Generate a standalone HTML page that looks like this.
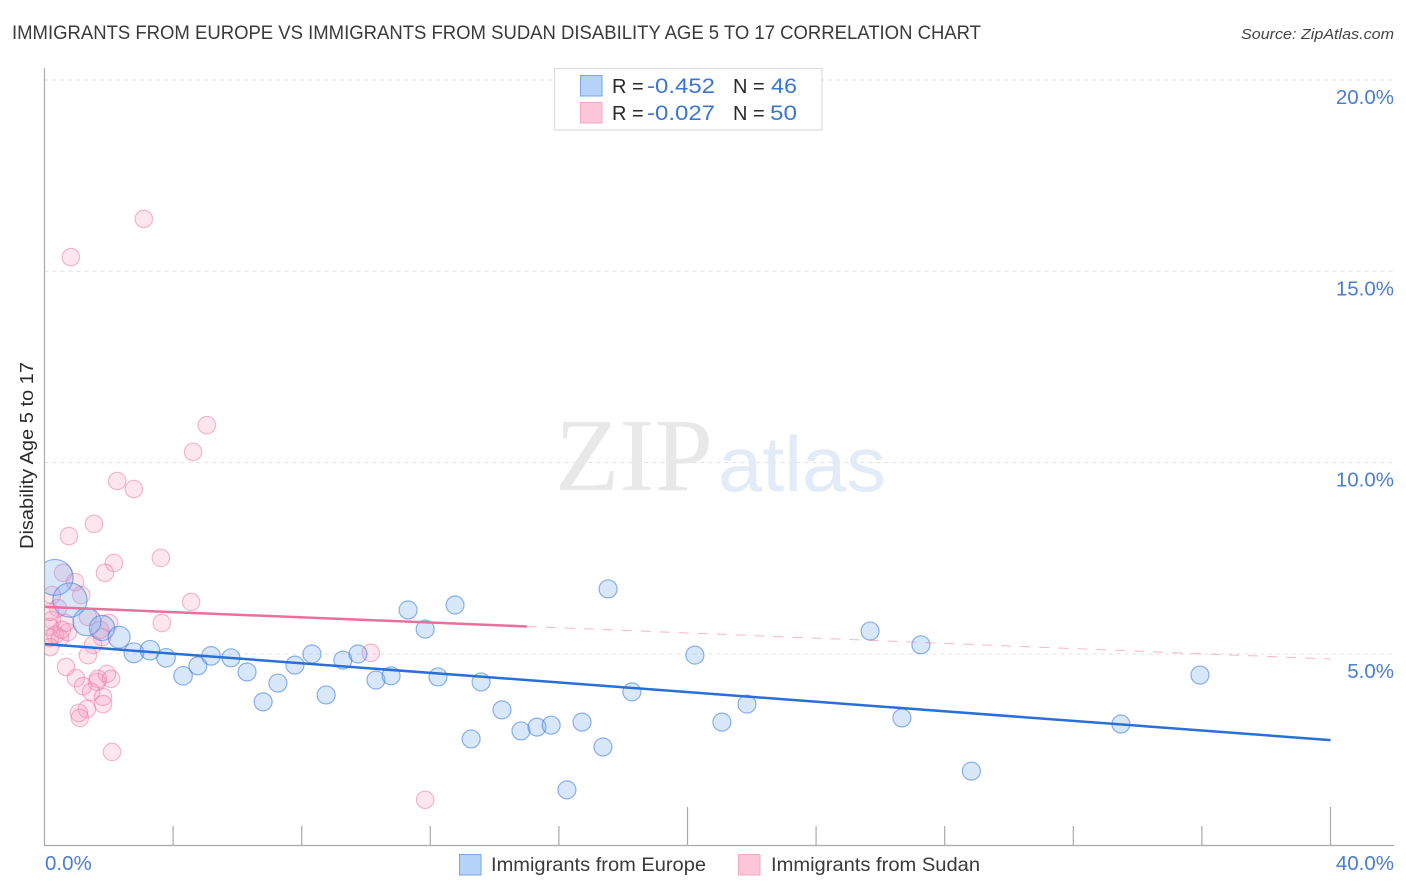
<!DOCTYPE html>
<html lang="en">
<head>
<meta charset="utf-8">
<title>Immigrants from Europe vs Immigrants from Sudan Disability Age 5 to 17 Correlation Chart</title>
<style>
  html, body { margin: 0; padding: 0; background: #fff; }
  svg { display: block; font-family: "Liberation Sans", sans-serif; }
</style>
</head>
<body>
<svg id="chart" width="1406" height="892" viewBox="0 0 1406 892" xmlns="http://www.w3.org/2000/svg">
  <defs>
    <clipPath id="plot-clip"><rect x="45" y="60" width="1349" height="785"/></clipPath>
  </defs>
  <text x="12" y="39" font-size="19.5" fill="#3a3a3a" textLength="969" lengthAdjust="spacingAndGlyphs">IMMIGRANTS FROM EUROPE VS IMMIGRANTS FROM SUDAN DISABILITY AGE 5 TO 17 CORRELATION CHART</text>
  <text x="1241" y="39" font-size="15" font-style="italic" fill="#444" textLength="153" lengthAdjust="spacingAndGlyphs">Source: ZipAtlas.com</text>
  <g id="grid"></g>
  <g>
    <text x="555" y="490" font-family="'Liberation Serif', serif" font-size="104" fill="#e8e8e8" textLength="158" lengthAdjust="spacingAndGlyphs">ZIP</text>
    <text x="718" y="491" font-size="78" fill="#e3ebf9" textLength="168" lengthAdjust="spacingAndGlyphs">atlas</text>
  </g>
  <g id="points-pink" clip-path="url(#plot-clip)"></g>
  <g id="points-blue" clip-path="url(#plot-clip)"></g>
  <g id="trends"></g>
  <g id="axes"></g>
  <text transform="translate(33,455.5) rotate(-90)" font-size="18" fill="#2a2a2a" text-anchor="middle" textLength="187" lengthAdjust="spacingAndGlyphs">Disability Age 5 to 17</text>

  <g>
    <rect x="554.5" y="68.5" width="267.5" height="61.5" fill="#fff" stroke="#ddd" stroke-width="1.2"/>
    <rect x="580.5" y="75.5" width="21.5" height="20.5" fill="#b5d2f8" stroke="#7aa6e8" stroke-width="1"/>
    <rect x="580.5" y="102.5" width="21.5" height="20.5" fill="#fdc6d8" stroke="#f3a9c2" stroke-width="1"/>
    <g font-size="20">
      <text x="612" y="93" fill="#2a2a2a">R =</text>
      <text x="647" y="93" fill="#3a76d4" font-size="21" textLength="68" lengthAdjust="spacingAndGlyphs">-0.452</text>
      <text x="733" y="93" fill="#2a2a2a">N =</text>
      <text x="771" y="93" fill="#3a76d4" font-size="21" textLength="26" lengthAdjust="spacingAndGlyphs">46</text>
      <text x="612" y="120" fill="#2a2a2a">R =</text>
      <text x="647" y="120" fill="#3a76d4" font-size="21" textLength="68" lengthAdjust="spacingAndGlyphs">-0.027</text>
      <text x="733" y="120" fill="#2a2a2a">N =</text>
      <text x="770" y="120" fill="#3a76d4" font-size="21" textLength="27" lengthAdjust="spacingAndGlyphs">50</text>
    </g>
  </g>

  <g>
    <rect x="459.5" y="854.5" width="21.5" height="20.5" fill="#b5d2f8" stroke="#7aa6e8" stroke-width="1"/>
    <text x="491" y="871" font-size="19.5" fill="#3a3a3a" textLength="215" lengthAdjust="spacingAndGlyphs">Immigrants from Europe</text>
    <rect x="738.5" y="854.5" width="21.5" height="20.5" fill="#fdc6d8" stroke="#f3a9c2" stroke-width="1"/>
    <text x="771" y="871" font-size="19.5" fill="#3a3a3a" textLength="209" lengthAdjust="spacingAndGlyphs">Immigrants from Sudan</text>
  </g>
</svg>
<script>
const europeX = [0.33,0.79,1.32,1.79,2.32,2.78,3.28,3.78,4.31,4.77,5.18,5.80,6.30,6.80,7.26,7.79,8.32,8.76,9.28,9.75,10.31,10.78,11.31,11.84,12.24,12.77,13.58,13.27,14.23,14.82,15.32,15.76,16.25,16.72,17.37,17.53,18.27,20.23,21.07,21.85,25.68,26.67,27.26,28.83,33.48,35.94];
const europeY = [7.00,6.41,5.84,5.68,5.44,5.03,5.10,4.90,4.43,4.69,4.95,4.90,4.53,3.75,4.24,4.71,5.00,3.93,4.84,5.00,4.32,4.43,6.15,5.65,4.40,6.28,4.27,2.78,3.54,2.99,3.09,3.14,1.45,3.22,2.57,6.70,4.01,4.97,3.22,3.69,5.60,3.33,5.24,1.94,3.17,4.45];
const europeWeight = [2,1.9,1.55,1.4,1.22,1.1,1.08,1.03,1.03,1,1.03,1,1,1,1,1,1,1,1,1,1,1,1,1,1,1,1,1,1,1,1,1,1,1,1,1,1,1,1,1,1,1,1,1,1,1];
const sudanX = [3.09,0.82,5.05,4.62,2.26,2.78,1.54,0.76,2.16,3.62,1.88,0.58,0.95,1.14,0.23,0.42,4.56,3.65,10.15,2.01,1.79,1.51,1.35,0.67,0.98,1.20,1.94,2.07,1.66,1.63,1.45,1.82,1.82,1.32,1.07,1.10,2.10,11.84,0.17,0.23,0.33,0.48,0.17,0.73,0.64,0.17,0.54,1.35,1.73,0.17];
const sudanY = [16.37,15.37,10.98,10.28,9.52,9.31,8.40,8.08,7.38,7.51,7.12,7.12,6.88,6.54,6.54,6.20,6.36,5.81,5.03,5.81,5.44,5.24,4.97,4.66,4.37,4.16,4.48,4.35,4.35,4.27,4.01,3.88,3.69,3.56,3.46,3.33,2.44,1.19,5.71,5.89,5.50,5.42,5.18,5.57,5.81,5.42,5.63,5.97,5.63,6.10];
const europeTrend = [5.26, 2.75];
const sudanTrend = [6.23, 4.87];
const trendDomain = [0, 40];
const sudanSolidEnd = 15;
const yTicks = [5, 10, 15, 20];
const yTickLabels = ['5.0%', '10.0%', '15.0%', '20.0%'];
const xTicks = [0, 4, 8, 12, 16, 20, 24, 28, 32, 36, 40];
const xEndLabels = ['0.0%', '40.0%'];

const NS = 'http://www.w3.org/2000/svg';
function sx(v) { return 44.5 + v * 32.15; }
function sy(v) { return 845.35 - v * 38.27; }
function rs(w) { return w * 9; }
function make(tag, attrs, parent) {
  const el = document.createElementNS(NS, tag);
  for (const k in attrs) el.setAttribute(k, attrs[k]);
  parent.appendChild(el);
  return el;
}
const grid = document.getElementById('grid');
yTicks.forEach(function (t) {
  const line = make('line', { x1: 44.5, x2: 1394, y1: sy(t), y2: sy(t), stroke: '#e0e0e0', 'stroke-width': 1, 'stroke-dasharray': '4 4' }, grid);
  
  
});

const pink = document.getElementById('points-pink');
sudanX.forEach(function (x, i) {
  const c = make('circle', { cx: sx(x), cy: sy(sudanY[i]), r: rs(0.97), fill: 'rgba(248,150,185,0.24)', stroke: 'rgba(236,120,165,0.5)', 'stroke-width': 1.2 }, pink);
  
  
});

const blue = document.getElementById('points-blue');
europeX.forEach(function (x, i) {
  const c = make('circle', { cx: sx(x), cy: sy(europeY[i]), r: rs(europeWeight[i]), fill: 'rgba(120,170,240,0.28)', stroke: 'rgba(60,125,220,0.58)', 'stroke-width': 1.2 }, blue);
  
  
});

const trends = document.getElementById('trends');
function trendValue(tr, x) {
  return tr[0] + (tr[1] - tr[0]) * (x - trendDomain[0]) / (trendDomain[1] - trendDomain[0]);
}
const dashLine = make('line', { x1: sx(sudanSolidEnd), y1: sy(trendValue(sudanTrend, sudanSolidEnd)), x2: sx(trendDomain[1]), y2: sy(trendValue(sudanTrend, trendDomain[1])), stroke: '#e9709c', 'stroke-width': 1, 'stroke-opacity': 0.5, 'stroke-dasharray': '10 9' }, trends);


const sudanLine = make('line', { x1: sx(trendDomain[0]), y1: sy(sudanTrend[0]), x2: sx(sudanSolidEnd), y2: sy(trendValue(sudanTrend, sudanSolidEnd)), stroke: '#e9709c', 'stroke-width': 2.5 }, trends);


const europeLine = make('line', { x1: sx(trendDomain[0]), y1: sy(europeTrend[0]), x2: sx(trendDomain[1]), y2: sy(europeTrend[1]), stroke: '#2970d6', 'stroke-width': 2.5 }, trends);



const axes = document.getElementById('axes');
const yAxis = make('line', { x1: 44.5, x2: 44.5, y1: 68, y2: 845.5, stroke: '#aaa', 'stroke-width': 1.2 }, axes);


const xAxis = make('line', { x1: 44, x2: 1394, y1: 845.5, y2: 845.5, stroke: '#aaa', 'stroke-width': 1.2 }, axes);


xTicks.forEach(function (t, i) {
  if (i === 0) return;
  const top = (t % 20 === 0) ? 807 : 826;
  const tick = make('line', { x1: sx(t), x2: sx(t), y1: top, y2: 845.5, stroke: '#aaa', 'stroke-width': 1.2 }, axes);
  
  
});
yTicks.forEach(function (t, i) {
  const label = make('text', { x: 1394, y: sy(t) + 24, 'font-size': 20.5, fill: '#4a7dd6', 'text-anchor': 'end' }, axes);
  label.textContent = yTickLabels[i];
  
  
});
const x0 = make('text', { x: 45, y: 870, 'font-size': 20.5, fill: '#4a7dd6' }, axes);
x0.textContent = xEndLabels[0];


const x1 = make('text', { x: 1394, y: 870, 'font-size': 20.5, fill: '#4a7dd6', 'text-anchor': 'end' }, axes);
x1.textContent = xEndLabels[1];


</script>
</body>
</html>
